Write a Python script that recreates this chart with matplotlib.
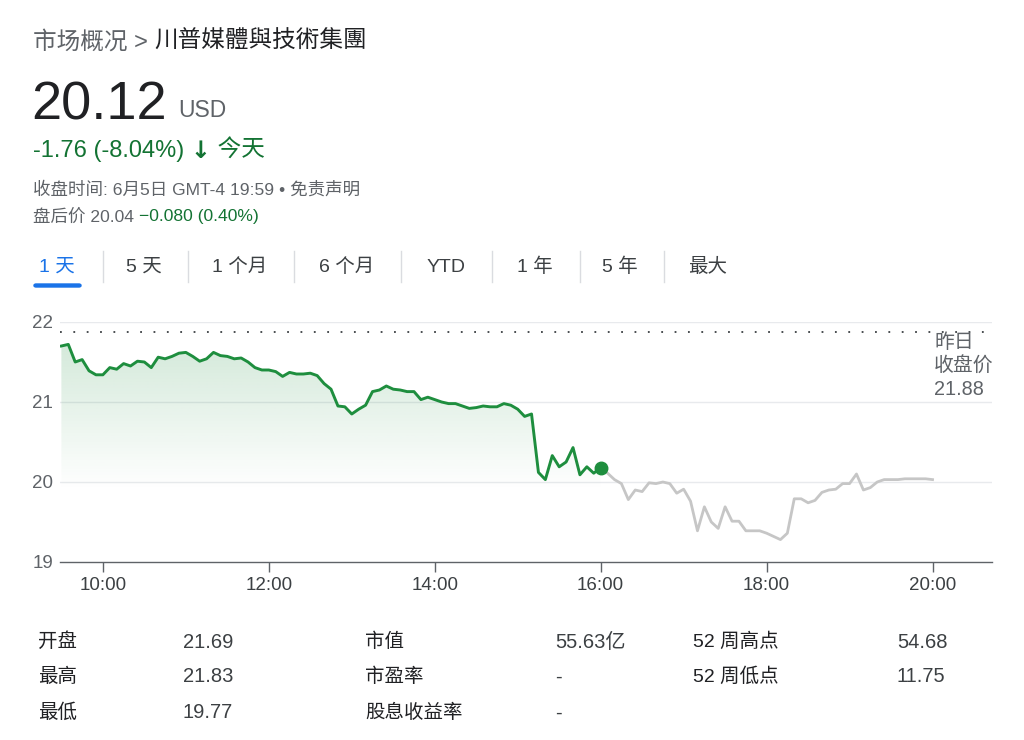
import numpy as np
import matplotlib
matplotlib.use("Agg")
import matplotlib.pyplot as plt
from matplotlib.colors import to_rgb
from matplotlib.patches import FancyBboxPatch

# page text
title_parts = [("市场概况 > ", "#5f6368"), ("川普媒體與技術集團", "#202124")]
price = "20.12"
currency = "USD"
change_text = "-1.76 (-8.04%) "
change_tail = " 今天"
close_info = "收盘时间: 6月5日 GMT-4 19:59 • 免责声明"
after_label = "盘后价 20.04 "
after_change = "−0.080 (0.40%)"
tabs = ["1 天", "5 天", "1 个月", "6 个月", "YTD", "1 年", "5 年", "最大"]

# intraday prices, 5 minute steps
reg_start = 9 * 60 + 30      # 9:30
ah_start = 16 * 60           # 16:00
step = 5
reg_prices = [21.70, 21.72, 21.50, 21.53, 21.39, 21.34, 21.34, 21.43, 21.41, 21.48,
              21.45, 21.51, 21.50, 21.43, 21.56, 21.54, 21.57, 21.61, 21.62, 21.57,
              21.51, 21.54, 21.62, 21.58, 21.57, 21.54, 21.55, 21.50, 21.43, 21.40,
              21.40, 21.38, 21.32, 21.37, 21.35, 21.35, 21.36, 21.33,
              21.23, 21.16, 20.95, 20.94, 20.85, 20.91, 20.96, 21.13, 21.15, 21.20,
              21.16, 21.15, 21.13, 21.13, 21.03, 21.06, 21.03, 21.00, 20.98, 20.98,
              20.95, 20.92, 20.93, 20.95, 20.94, 20.94, 20.98, 20.96, 20.91, 20.82,
              20.85, 20.12, 20.03, 20.33, 20.19, 20.25, 20.43, 20.09, 20.19, 20.11,
              20.18]
ah_prices = [20.18, 20.11, 20.03, 19.98, 19.78, 19.90, 19.88, 19.99, 19.98, 20.00,
             19.98, 19.86, 19.91, 19.76, 19.39, 19.69, 19.50, 19.42, 19.69, 19.51,
             19.51, 19.39, 19.39, 19.39, 19.36, 19.32, 19.28, 19.36, 19.79, 19.79,
             19.74, 19.77, 19.87, 19.90, 19.91, 19.98, 19.98, 20.10, 19.90, 19.93,
             20.00, 20.03, 20.03, 20.03, 20.04, 20.04, 20.04, 20.04, 20.03]
prev_close = 21.88
y_ticks = [19, 20, 21, 22]
x_ticks = [600, 720, 840, 960, 1080, 1200]
x_tick_labels = ["10:00", "12:00", "14:00", "16:00", "18:00", "20:00"]

# stats table
col1_labels = ["开盘", "最高", "最低"]
col1_values = ["21.69", "21.83", "19.77"]
col2_labels = ["市值", "市盈率", "股息收益率"]
col2_values = ["55.63亿", "-", "-"]
col3_labels = ["52 周高点", "52 周低点"]
col3_values = ["54.68", "11.75"]

FONT = ["Liberation Sans", "Noto Sans CJK SC", "DejaVu Sans"]
GREEN = "#1e8e3e"
TXT_GREEN = "#137333"
GRAY = "#5f6368"
DARK = "#202124"
W, H = 1024, 740

plt.rcParams["font.family"] = FONT
fig = plt.figure(figsize=(W / 100, H / 100), dpi=100)
renderer = fig.canvas.get_renderer()


def px(x, y):
    return x / W, 1 - y / H


def text_row(x, y, pieces, size, va="center"):
    for piece in pieces:
        s, color = piece[0], piece[1]
        kw = piece[2] if len(piece) > 2 else {}
        t = fig.text(*px(x, y), s, color=color, fontsize=size, va=va, ha="left", **kw)
        x += t.get_window_extent(renderer=renderer).width


# header
text_row(33, 42, title_parts, 17)
fig.text(*px(31, 120), price, fontsize=39, color=DARK, va="baseline")
fig.text(*px(178, 117), currency, fontsize=16.5, color=GRAY, va="baseline")
text_row(33, 151, [(change_text, TXT_GREEN),
                   ("↓", TXT_GREEN, {"family": "DejaVu Sans", "fontweight": "bold"}),
                   (change_tail, TXT_GREEN)], 17)
fig.text(*px(33, 189), close_info, fontsize=12.6, color=GRAY, va="center")
text_row(33, 217, [(after_label, GRAY), (after_change, TXT_GREEN)], 12.6)

# tabs
tab_centers = [57, 144, 240, 347, 446, 535, 620, 708]
seps = [103, 188, 294, 401, 492, 580, 664]
for i, (lab, cx) in enumerate(zip(tabs, tab_centers)):
    fig.text(*px(cx, 267), lab, fontsize=14, ha="center", va="center",
             color="#1a73e8" if i == 0 else "#3c4043")
for sx in seps:
    fig.add_artist(plt.Line2D([sx / W, sx / W], [1 - 251 / H, 1 - 282 / H],
                              color="#dadce0", lw=1))
fig.add_artist(FancyBboxPatch(px(34, 287), 47 / W, 3 / H,
                              boxstyle="round,pad=0,rounding_size=0.002",
                              color="#1a73e8", transform=fig.transFigure))

# chart
ax = fig.add_axes([60 / W, 1 - 562 / H, 932 / W, 240 / H])
t_reg = reg_start + step * np.arange(len(reg_prices))
t_ah = ah_start + step * np.arange(len(ah_prices))

for y in y_ticks[1:]:
    ax.axhline(y, color="#e8eaed", lw=1, zorder=0)
ax.axhline(prev_close, color="#3c4043", lw=1.3, linestyle=(0, (1, 6.4)), zorder=1)

grad = np.zeros((256, 1, 4))
grad[..., :3] = to_rgb(GREEN)
grad[..., 3] = np.linspace(0, 0.22, 256)[:, None]
im = ax.imshow(grad, extent=[t_reg[0], t_reg[-1], 19.9, 22], origin="lower",
               aspect="auto", zorder=1, interpolation="bilinear")
poly = ax.fill_between(t_reg, reg_prices, 19, facecolor="none", edgecolor="none")
im.set_clip_path(poly.get_paths()[0], transform=ax.transData)

ax.plot(t_ah, ah_prices, color="#c6c6c6", lw=2.0, zorder=2)
ax.plot(t_reg, reg_prices, color=GREEN, lw=2.1, zorder=3)
ax.plot(t_reg[-1], reg_prices[-1], "o", color=GREEN, ms=9, zorder=4)

ax.set_xlim(569, 1243)
ax.set_ylim(19, 22)
for s in ["top", "right", "left"]:
    ax.spines[s].set_visible(False)
ax.spines["bottom"].set_color("#5f6368")
ax.spines["bottom"].set_linewidth(1)
ax.set_yticks(y_ticks)
ax.set_yticklabels([str(v) for v in y_ticks])
ax.tick_params(axis="y", length=0, pad=5, labelsize=13.5, labelcolor="#5f6368")
ax.set_xticks(x_ticks)
ax.set_xticklabels(x_tick_labels)
ax.tick_params(axis="x", length=7, width=1, color="#5f6368", pad=4,
               labelsize=13.5, labelcolor="#3c4043")

fig.text(*px(934, 333), "昨日\n收盘价\n%.2f" % prev_close, fontsize=14.3, color=GRAY,
         va="top", ha="left", linespacing=1.3)

# table
rows_y = [642, 677, 713]
for col_x, val_x, labels, values in [(38, 183, col1_labels, col1_values),
                                     (365, 555, col2_labels, col2_values),
                                     (693, 897, col3_labels, col3_values)]:
    for y, lab, val in zip(rows_y, labels, values):
        fig.text(*px(col_x, y), lab, fontsize=14, color=DARK, va="center")
        fig.text(*px(val_x, y), val, fontsize=14.5, color="#3c4043", va="center")

fig.savefig("out.png", dpi=100)
